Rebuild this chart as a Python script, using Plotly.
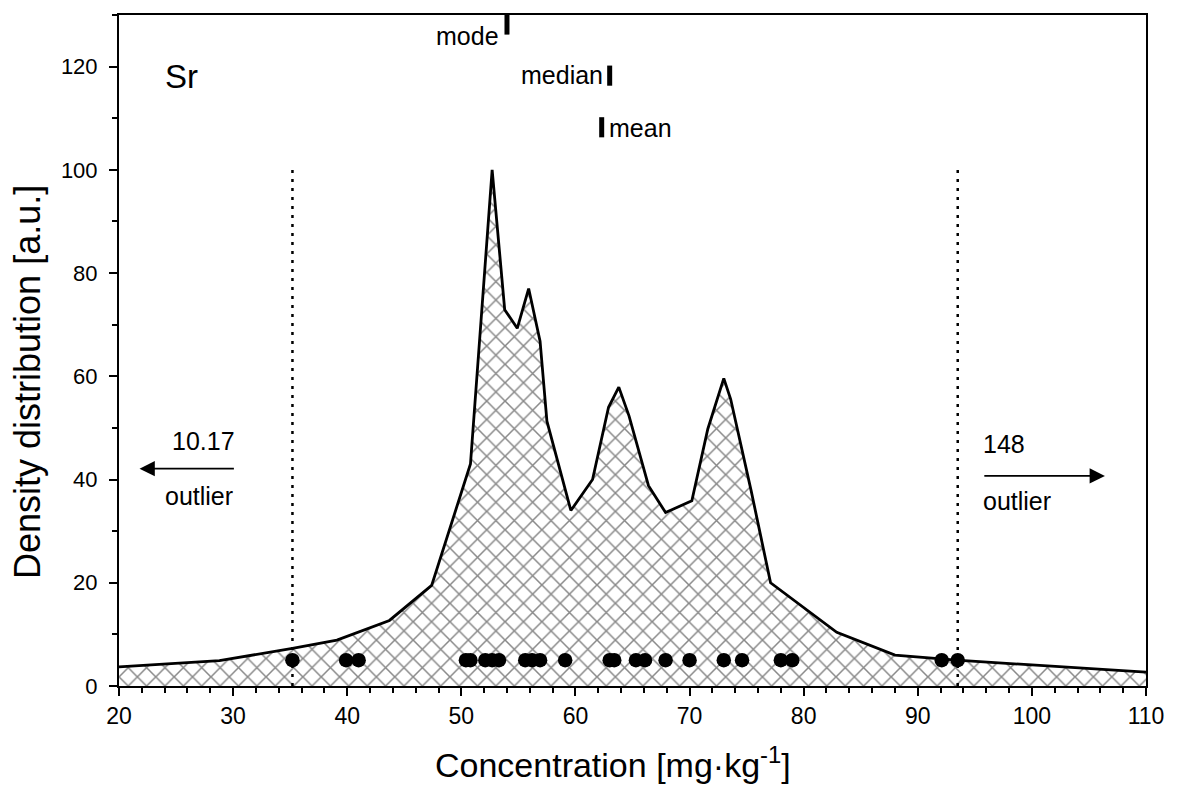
import plotly.graph_objects as go

# Density curve (Sr)
conc = [20, 28.8, 35.2, 39.1, 43.7, 47.4, 50.8, 52.7, 53.8, 54.9, 55.9, 56.9, 57.5,
        59.6, 61.5, 62.9, 63.8, 64.7, 66.4, 67.9, 70.2, 71.6, 73.0, 73.6, 75.4, 77.1,
        82.9, 88.0, 93.4, 110]
density = [3.7, 4.9, 7.3, 8.9, 12.7, 19.5, 43, 100, 72.9, 69.3, 77, 66.8, 51.3,
           34, 40, 54, 57.9, 52.3, 38.8, 33.6, 35.9, 49.8, 59.6, 55.6, 37.8, 20,
           10.4, 6, 5.0, 2.7]

# Individual samples
samples = [35.2, 39.9, 41.0, 50.4, 50.8, 52.1, 52.7, 53.3, 55.6, 56.2, 56.9, 59.1,
           63.0, 63.4, 65.3, 66.1, 67.9, 70.0, 73.0, 74.6, 78.0, 79.0, 92.1, 93.5]
sample_level = [5] * len(samples)

# Statistics
stat_names = ["mode", "median", "mean"]
stat_x = [54.0, 63.0, 62.3]
stat_y0 = [126.2, 116.3, 106.3]
stat_y1 = [130.0, 120.2, 110.2]

outlier_bounds = [35.2, 93.5]
outlier_vals = ["10.17", "148"]

FONT = "Liberation Sans, Arial, sans-serif"
TXT = 25

fig = go.Figure()
fig.add_trace(go.Scatter(
    x=conc, y=density, mode="lines", fill="tozeroy",
    line=dict(color="black", width=2.8),
    fillcolor="rgba(255,255,255,0)",
    fillpattern=dict(shape="x", size=13, solidity=0.22, fgcolor="#111111",
                     bgcolor="white"),
    showlegend=False, hoverinfo="skip"))
fig.add_trace(go.Scatter(
    x=samples, y=sample_level, mode="markers",
    marker=dict(color="black", size=14.5), showlegend=False))

shapes = []
for xb in outlier_bounds:
    shapes.append(dict(type="line", x0=xb, x1=xb, y0=0, y1=100.5, xref="x", yref="y",
                       line=dict(color="black", width=2.5, dash="3px,6px")))
for sx, y0, y1 in zip(stat_x, stat_y0, stat_y1):
    shapes.append(dict(type="line", x0=sx, x1=sx, y0=y0, y1=y1, xref="x", yref="y",
                       line=dict(color="black", width=5)))
fig.update_layout(shapes=shapes)

def txt(x, y, t, anchor, size=TXT):
    return dict(x=x, y=y, text=t, showarrow=False, xanchor=anchor, yanchor="middle",
                font=dict(size=size, color="black", family=FONT))

ann = [
    txt(25.5, 118, "Sr", "center", 33),
    txt(53.5, 126, stat_names[0], "right"),
    txt(62.6, 118.3, stat_names[1], "right"),
    txt(62.8, 108.2, stat_names[2], "left"),
    txt(30.3, 47.5, outlier_vals[0], "right"),
    txt(30.2, 36.9, "outlier", "right"),
    txt(95.5, 46.9, outlier_vals[1], "left"),
    txt(95.5, 35.9, "outlier", "left"),
    dict(x=21.8, y=42.1, ax=30.2, ay=42.1, axref="x", ayref="y", xref="x",
         yref="y", text="", showarrow=True, arrowhead=2, arrowsize=1.7,
         arrowwidth=1.8, arrowcolor="black"),
    dict(x=106.4, y=40.7, ax=95.7, ay=40.7, axref="x", ayref="y", xref="x",
         yref="y", text="", showarrow=True, arrowhead=2, arrowsize=1.7,
         arrowwidth=1.8, arrowcolor="black"),
    # axis titles placed as paper annotations for exact positioning
    dict(x=(613 - 119) / 1028, y=-(763 - 686) / 673, xref="paper", yref="paper",
         text="Concentration [mg·kg<sup>-1</sup>]", showarrow=False,
         xanchor="center", yanchor="middle",
         font=dict(size=34, color="black", family=FONT)),
    dict(x=-(119 - 28) / 1028, y=(686 - 381) / 673, xref="paper", yref="paper",
         text="Density distribution [a.u.]", showarrow=False, textangle=-90,
         xanchor="center", yanchor="middle",
         font=dict(size=36, color="black", family=FONT)),
]
fig.update_layout(annotations=ann)

fig.update_xaxes(
    range=[20, 110], tickmode="linear", tick0=20, dtick=10,
    ticks="outside", ticklen=8, tickwidth=2, tickcolor="black",
    minor=dict(dtick=2, ticks="outside", ticklen=5, tickwidth=1.5, tickcolor="black"),
    showline=True, linewidth=2, linecolor="black", mirror=True,
    showgrid=False, zeroline=False,
    tickfont=dict(size=23, color="black", family=FONT))
fig.update_yaxes(
    range=[0, 130], tickmode="linear", tick0=0, dtick=20,
    ticks="outside", ticklen=8, tickwidth=2, tickcolor="black",
    minor=dict(dtick=10, ticks="outside", ticklen=5, tickwidth=1.5, tickcolor="black"),
    showline=True, linewidth=2, linecolor="black", mirror=True,
    showgrid=False, zeroline=False, ticklabelstandoff=7,
    tickfont=dict(size=22, color="black", family=FONT))

# The page body adds an 8px margin, so the figure is 16px smaller and margins shifted.
fig.update_layout(
    width=1161, height=779,
    margin=dict(l=111, r=22, t=5, b=101),
    plot_bgcolor="white", paper_bgcolor="white",
    font=dict(family=FONT, color="black"))

fig.write_html("out.html")
